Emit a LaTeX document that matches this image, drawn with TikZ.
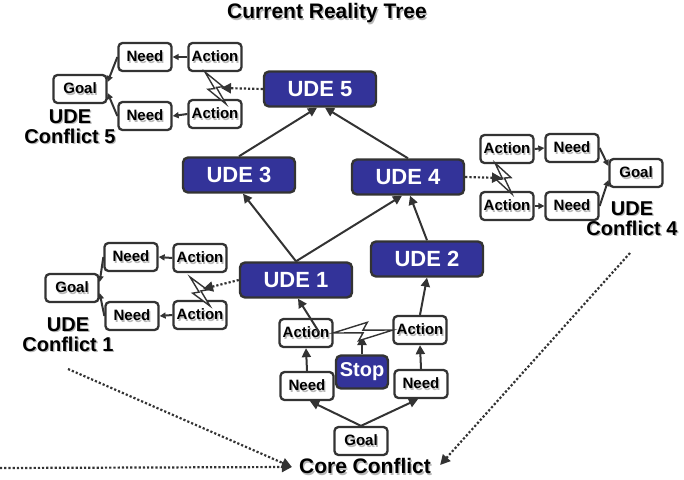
\documentclass[tikz,border=0pt]{standalone}
\usepackage{fontspec}
\setmainfont{Liberation Sans}
\usetikzlibrary{arrows.meta,calc}
\definecolor{udeblue}{RGB}{51,51,153}
\definecolor{dk}{RGB}{51,51,51}
\newcommand\shd[1]{\leavevmode\rlap{\kern1.3pt\raisebox{-1.3pt}{\color{black!28}#1}}#1}
\newcommand\bolt[3]{%
  \draw[boltst] (#1) -- ($(#1)!0.58!(#2)!#3!90:(#2)$) -- ($(#1)!0.5!(#2)!0.15*#3!90:(#2)$) -- (#2)
    -- ($(#1)!0.42!(#2)!#3!-90:(#2)$) -- ($(#1)!0.5!(#2)!0.15*#3!-90:(#2)$) -- cycle;}
\begin{document}
\begin{tikzpicture}[x=1pt,y=-1pt,
  sbox/.style={draw=dk,line width=2.3pt,rounded corners=4pt,fill=white,minimum width=53pt,minimum height=28pt,inner sep=1pt,font=\fontsize{15}{16}\selectfont\bfseries},
  ubox/.style={draw=dk,line width=2.4pt,rounded corners=5pt,fill=udeblue,text=white,minimum width=112pt,minimum height=35pt,inner sep=1pt,font=\fontsize{22}{24}\selectfont\bfseries},
  lbl/.style={align=center,font=\fontsize{20}{20}\selectfont\bfseries,inner sep=0pt},
  arr/.style={draw=dk,line width=2pt,-{Triangle[length=9pt,width=9pt]}},
  sarr/.style={draw=dk,line width=2pt,-{Triangle[length=6pt,width=6pt]}},
  dotarr/.style={draw=dk,line width=2.2pt,dotted,-{Triangle[length=10pt,width=10pt]}},
  boltst/.style={draw=dk,line width=1.4pt,fill=white,line join=miter}
]
\path[use as bounding box] (0,0) rectangle (684,479);

% title
\node[font=\fontsize{21}{22}\selectfont\bfseries,inner sep=0pt] (title) at (327,14) {\shd{Current Reality Tree}};

% main tree
\node[ubox] (u5) at (320,89) {UDE 5};
\node[ubox] (u3) at (239,175) {UDE 3};
\node[ubox] (u4) at (408,177) {UDE 4};
\node[ubox] (u1) at (296,280) {UDE 1};
\node[ubox] (u2) at (427,259) {UDE 2};
\node[ubox,minimum width=52pt,minimum height=33pt,font=\fontsize{20}{22}\selectfont\bfseries] (stop) at (362,372) {Stop};
\node[sbox] (actL) at (306,333) {\shd{Action}};
\node[sbox] (actR) at (420,330) {\shd{Action}};
\node[sbox] (needL) at (307,386) {\shd{Need}};
\node[sbox] (needR) at (421,384) {\shd{Need}};
\node[sbox] (goalC) at (361,441) {\shd{Goal}};
\node[font=\fontsize{21}{22}\selectfont\bfseries,inner sep=0pt] (core) at (365,467) {\shd{Core Conflict}};

\draw[arr] (goalC.north) -- ($(needL.south)+(3,0)$);
\draw[arr] (goalC.north) -- ($(needR.south)+(-3,0)$);
\draw[arr] (needL.north) -- (actL.south);
\draw[arr] (needR.north) -- (actR.south);
\coordinate (bm) at (362,336);
\draw[arr] (stop.north) -- (bm);
\draw[arr] (actR.north) -- (u2.south);
\draw[arr] (u1.north) -- ($(u3.south)+(4,0)$);
\draw[arr] (u1.north) -- ($(u4.south)+(-6,0)$);
\draw[arr] (u2.north) -- ($(u4.south)+(2,0)$);
\draw[arr] (u3.north) -- ($(u5.south)+(-3,0)$);
\draw[arr] (u4.north) -- ($(u5.south)+(5,0)$);
\draw[arr] ($(actL.center)+(13,-1)$) -- ($(u1.south)+(2,0)$);
\bolt{333,333}{393,330}{9pt}

% conflict 5
\node[sbox] (needT5) at (145,57) {\shd{Need}};
\node[sbox] (actT5) at (215,57) {\shd{Action}};
\node[sbox] (goal5) at (80,89) {\shd{Goal}};
\node[sbox] (needB5) at (145,116) {\shd{Need}};
\node[sbox] (actB5) at (215,114) {\shd{Action}};
\node[lbl] (l5) at (70,127) {\shd{UDE}\\\shd{Conflict 5}};
\draw[sarr] (actT5.west) -- (needT5.east);
\draw[sarr] (actB5.west) -- (needB5.east);
\draw[sarr] (needT5.west) -- ($(goal5.east)+(0,-7)$);
\draw[sarr] (needB5.west) -- ($(goal5.east)+(0,4)$);
\bolt{205,72}{226,104}{7pt}
\coordinate (b5) at (221,88);
\draw[dotarr] (u5.west) -- (b5);

% conflict 4
\node[sbox] (actT4) at (507,149) {\shd{Action}};
\node[sbox] (needT4) at (572,148) {\shd{Need}};
\node[sbox] (goal4) at (636,173) {\shd{Goal}};
\node[sbox] (actB4) at (507,206) {\shd{Action}};
\node[sbox] (needB4) at (572,206) {\shd{Need}};
\node[lbl] (l4) at (632,219) {\shd{UDE}\\\shd{Conflict 4}};
\draw[sarr] (actT4.east) -- (needT4.west);
\draw[sarr] (actB4.east) -- (needB4.west);
\draw[sarr] (needT4.east) -- ($(goal4.west)+(0,-7)$);
\draw[sarr] (needB4.east) -- ($(goal4.west)+(0,7)$);
\bolt{495,163}{512,194}{7pt}
\coordinate (b4) at (502,178);
\draw[dotarr] (u4.east) -- (b4);

% conflict 1
\node[sbox] (needT1) at (131,257) {\shd{Need}};
\node[sbox] (actT1) at (200,258) {\shd{Action}};
\node[sbox] (goal1) at (72,288) {\shd{Goal}};
\node[sbox] (needB1) at (132,316) {\shd{Need}};
\node[sbox] (actB1) at (200,315) {\shd{Action}};
\node[lbl] (l1) at (68,335) {\shd{UDE}\\\shd{Conflict 1}};
\draw[sarr] (actT1.west) -- (needT1.east);
\draw[sarr] (actB1.west) -- (needB1.east);
\draw[sarr] (needT1.west) -- ($(goal1.east)+(0,-6)$);
\draw[sarr] (needB1.west) -- ($(goal1.east)+(0,5)$);
\bolt{190,277}{210,306}{7pt}
\coordinate (b1) at (203,289);
\draw[dotarr] (u1.west) -- (b1);

% links to core conflict
\coordinate (c1) at (68,369);
\coordinate (c4) at (630,253);
\coordinate (cl) at (0,468);
\draw[dotarr] (c1) -- ($(core.west)+(-7,0)$);
\draw[dotarr] (cl) -- ($(core.west)+(-7,0)$);
\draw[dotarr] (c4) -- ($(core.east)+(9,-2)$);
\end{tikzpicture}
\end{document}
